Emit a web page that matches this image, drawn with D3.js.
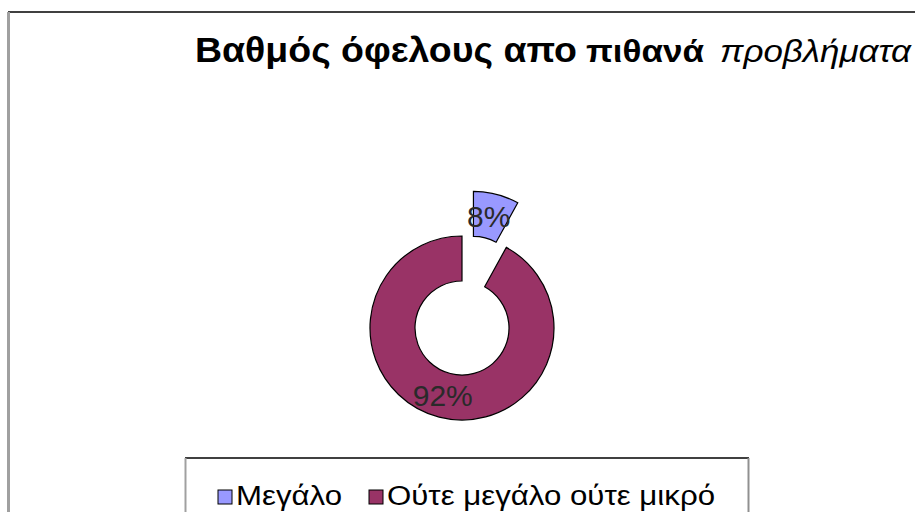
<!DOCTYPE html>
<html>
<head>
<meta charset="utf-8">
<script src="https://cdn.jsdelivr.net/npm/d3@7"></script>
<style>
  body { margin: 0; background: #fff; }
  text { font-family: "Liberation Sans", Arial, sans-serif; }
</style>
</head>
<body>
<div id="chart"></div>
<script>
// chart values
var categories = ["Μεγάλο", "Ούτε μεγάλο ούτε μικρό"];
var values = [8, 92];
var colors = ["#9999ff", "#993366"];
var explode = [46, 0];

// title pieces: text, weight, style, size, x, width
var titleParts = [
  ["Βαθμός όφελους απο", "bold", "normal", 35, 195, 382],
  ["πιθανά", "bold", "normal", 32, 586, 118],
  ["προβλήματα", "normal", "italic", 31, 720, 191]
];

var width = 915;
var height = 512;

var cx = 462, cy = 328;
var outer = 92, inner = 47;

var svg = d3.select("#chart").append("svg")
  .attr("width", width)
  .attr("height", height);

// chart area frame (runs off the right and bottom)
svg.append("line")
  .attr("x1", 8).attr("y1", 12).attr("x2", width).attr("y2", 12)
  .attr("stroke", "#000").attr("stroke-width", 1.5);
svg.append("line")
  .attr("x1", 8.5).attr("y1", 12).attr("x2", 8.5).attr("y2", height)
  .attr("stroke", "#a0a0a0").attr("stroke-width", 3);

// title
svg.selectAll("text.title")
  .data(titleParts)
  .enter().append("text")
  .attr("class", "title")
  .attr("x", function(d) { return d[4]; })
  .attr("y", 62)
  .attr("font-weight", function(d) { return d[1]; })
  .attr("font-style", function(d) { return d[2]; })
  .attr("font-size", function(d) { return d[3]; })
  .attr("textLength", function(d) { return d[5]; })
  .attr("lengthAdjust", "spacingAndGlyphs")
  .attr("fill", "#000")
  .text(function(d) { return d[0]; });

// donut
var pie = d3.pie().sort(null).value(function(d) { return d; });
var arc = d3.arc().innerRadius(inner).outerRadius(outer);
var slices = pie(values);

var g = svg.append("g").attr("transform", "translate(" + cx + "," + cy + ")");

function offset(d, i) {
  var a = (d.startAngle + d.endAngle) / 2;
  return [Math.sin(a) * explode[i], -Math.cos(a) * explode[i]];
}

g.selectAll("path")
  .data(slices)
  .enter().append("path")
  .attr("d", arc)
  .attr("transform", function(d, i) {
    var o = offset(d, i);
    return "translate(" + o[0] + "," + o[1] + ")";
  })
  .attr("fill", function(d, i) { return colors[i]; })
  .attr("stroke", "#000")
  .attr("stroke-width", 1.2);

g.selectAll("text.lbl")
  .data(slices)
  .enter().append("text")
  .attr("class", "lbl")
  .attr("transform", function(d, i) {
    var c = arc.centroid(d);
    var o = offset(d, i);
    return "translate(" + (c[0] + o[0] - 2) + "," + (c[1] + o[1]) + ")";
  })
  .attr("text-anchor", "middle")
  .attr("dy", "0.36em")
  .attr("font-size", 30)
  .attr("fill", "#2a2a2a")
  .text(function(d) { return d.value + "%"; });

// legend
var legend = svg.append("g");
legend.append("line")
  .attr("x1", 185).attr("y1", 458).attr("x2", 749).attr("y2", 458)
  .attr("stroke", "#000").attr("stroke-width", 1.5);
legend.append("line")
  .attr("x1", 185.5).attr("y1", 458).attr("x2", 185.5).attr("y2", height)
  .attr("stroke", "#a0a0a0").attr("stroke-width", 2);
legend.append("line")
  .attr("x1", 748.5).attr("y1", 458).attr("x2", 748.5).attr("y2", height)
  .attr("stroke", "#909090").attr("stroke-width", 2);

var legendX = [218, 369];
var legendW = [106, 328];
var items = legend.selectAll("g.item")
  .data(categories)
  .enter().append("g")
  .attr("class", "item")
  .attr("transform", function(d, i) { return "translate(" + legendX[i] + ",490)"; });

items.append("rect")
  .attr("width", 14).attr("height", 14)
  .attr("fill", function(d, i) { return colors[i]; })
  .attr("stroke", "#000").attr("stroke-width", 1);

items.append("text")
  .attr("x", 18)
  .attr("y", 15)
  .attr("font-size", 27)
  .attr("textLength", function(d, i) { return legendW[i]; })
  .attr("lengthAdjust", "spacingAndGlyphs")
  .attr("fill", "#000")
  .text(function(d) { return d; });
</script>
</body>
</html>
